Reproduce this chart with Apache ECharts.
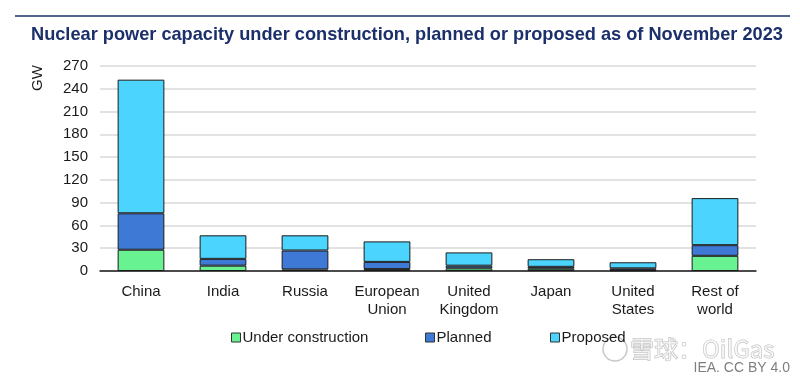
<!DOCTYPE html>
<html>
<head>
<meta charset="utf-8">
<script src="https://cdn.jsdelivr.net/npm/echarts@6/dist/echarts.min.js"></script>
<style>
  html, body { margin: 0; padding: 0; background: #fff; }
  #chart { width: 800px; height: 376px; }
</style>
</head>
<body>
<div id="chart"></div>
<script>
// data (GW)
var categories = ['China', 'India', 'Russia', 'European\nUnion', 'United\nKingdom', 'Japan', 'United\nStates', 'Rest of\nworld']
var underConstruction = [28, 7, 2, 2.5, 3.5, 3, 1, 20]
var planned = [48, 9, 25, 9.5, 3.5, 2.5, 2.5, 14]
var proposed = [176, 31, 20, 27, 17.5, 10, 8, 62]
var yTicks = [0, 30, 60, 90, 120, 150, 180, 210, 240, 270]
var seriesNames = ['Under construction', 'Planned', 'Proposed']

var myChart = echarts.init(document.getElementById('chart'))

var font = 'Liberation Sans, Arial, sans-serif'
var navy = '#1b2f6b'

function barSeries(name, data, color) {
  return {
    name: name,
    type: 'bar',
    stack: 'total',
    data: data,
    barWidth: '57%',
    itemStyle: {
      color: color,
      borderColor: '#1a1a1a',
      borderWidth: 1,
    },
  }
}

// one legend per item so each sits at its own column like the reference
function legendItem(name, left) {
  return {
    left: left,
    top: 330,
    padding: 0,
    itemWidth: 9,
    itemHeight: 9,
    icon: 'rect',
    itemStyle: { borderColor: '#333', borderWidth: 1 },
    textStyle: { color: '#1a1a1a', fontSize: 15, fontFamily: font, padding: [0, 0, 0, -3] },
    data: [name],
  }
}

var option = {
  backgroundColor: '#fff',
  animation: false,
  textStyle: { fontFamily: font },
  title: {
    text: 'Nuclear power capacity under construction, planned or proposed as of November 2023',
    left: 26,
    top: 21,
    textStyle: {
      color: navy,
      fontSize: 18.2,
      fontWeight: 'bold',
      fontFamily: font,
    },
  },
  grid: {
    left: 100,
    right: 44,
    top: 66,
    bottom: 105,
  },
  legend: [
    legendItem(seriesNames[0], 231),
    legendItem(seriesNames[1], 425),
    legendItem(seriesNames[2], 550),
  ],
  xAxis: {
    type: 'category',
    data: categories,
    axisTick: { show: false },
    axisLine: { show: true, lineStyle: { color: '#1a1a1a', width: 1.5 } },
    axisLabel: {
      color: '#1a1a1a',
      fontSize: 15,
      lineHeight: 18,
      margin: 12,
      interval: 0,
    },
  },
  yAxis: {
    type: 'value',
    min: yTicks[0],
    max: yTicks[yTicks.length - 1],
    interval: 30,
    axisLine: { show: false },
    axisTick: { show: false },
    splitLine: { lineStyle: { color: '#d9d9d9', width: 1.5 } },
    axisLabel: { color: '#1a1a1a', fontSize: 15, margin: 12 },
  },
  graphic: [
    {
      type: 'line',
      shape: { x1: 15, y1: 16, x2: 790, y2: 16 },
      style: { stroke: navy, lineWidth: 1.5 },
    },
    {
      type: 'text',
      x: 38,
      y: 78,
      rotation: Math.PI / 2,
      style: { text: 'GW', fill: '#1a1a1a', font: '15px ' + font, align: 'center', verticalAlign: 'middle' },
    },
    {
      type: 'text',
      right: 10,
      top: 361,
      style: { text: 'IEA. CC BY 4.0', fill: '#7f7f7f', font: '14px ' + font },
    },
    // watermark
    {
      type: 'circle',
      shape: { cx: 615, cy: 349, r: 12 },
      style: { fill: 'none', stroke: '#c8c8c8', lineWidth: 1.5 },
    },
    {
      type: 'text',
      right: 25,
      top: 336,
      style: {
        text: '雪球：OilGas',
        fill: 'rgba(255,255,255,0.6)',
        stroke: '#bdbdbd',
        lineWidth: 1,
        font: '24px Noto Sans CJK SC, sans-serif',
      },
    },
  ],
  series: [
    barSeries(seriesNames[0], underConstruction, '#69f292'),
    barSeries(seriesNames[1], planned, '#3d79d5'),
    barSeries(seriesNames[2], proposed, '#4bd4fd'),
  ],
}

myChart.setOption(option, true)
</script>
</body>
</html>
